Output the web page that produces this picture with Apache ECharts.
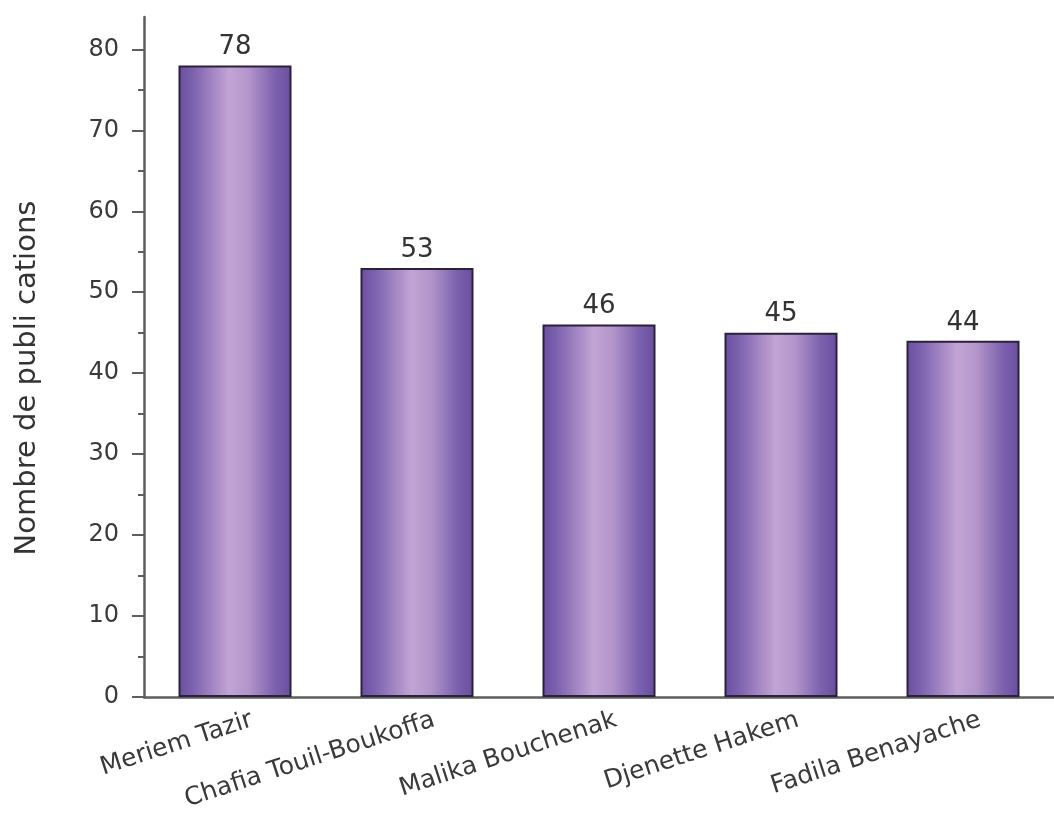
<!DOCTYPE html>
<html>
<head>
<meta charset="utf-8">
<script src="https://cdn.jsdelivr.net/npm/echarts@6/dist/echarts.min.js"></script>
<style>
html,body{margin:0;padding:0;background:#fff;}
#chart{width:1054px;height:829px;}
</style>
</head>
<body>
<div id="chart"></div>
<script>
const categories = ["Meriem Tazir", "Chafia Touil-Boukoffa", "Malika Bouchenak", "Djenette Hakem", "Fadila Benayache"];
const publications = [78, 53, 46, 45, 44];
const yTicks = [0, 10, 20, 30, 40, 50, 60, 70, 80];
const yAxisName = "Nombre de publi cations";

const chart = echarts.init(document.getElementById('chart'), null, {renderer: 'canvas'});
const FONT = "'DejaVu Sans', sans-serif";
const barGradient = new echarts.graphic.LinearGradient(0, 0, 1, 0, [
  {offset: 0, color: '#6a4fa2'},
  {offset: 0.12, color: '#7b60ad'},
  {offset: 0.45, color: '#c3a4d5'},
  {offset: 0.62, color: '#b395cb'},
  {offset: 0.86, color: '#7a60ad'},
  {offset: 1, color: '#694e9f'}
]);
chart.setOption({
  backgroundColor: '#ffffff',
  animation: false,
  grid: {left: 144, top: 17, width: 920, bottom: 132, containLabel: false},
  xAxis: {
    type: 'category',
    data: categories,
    axisLine: {show: true, lineStyle: {color: '#5e5e5e', width: 2.5}},
    axisTick: {show: false},
    axisLabel: {
      rotate: 18,
      interval: 0,
      color: '#3a3a3a',
      fontFamily: FONT,
      fontSize: 25,
      margin: 28,
      padding: [0, -18, 0, 0]
    }
  },
  yAxis: {
    type: 'value',
    min: 0,
    max: 84,
    interval: 10,
    name: yAxisName,
    nameLocation: 'middle',
    nameGap: 102,
    nameTextStyle: {color: '#333', fontFamily: FONT, fontSize: 29, padding: [0, 42, 0, 0]},
    splitLine: {show: false},
    axisLine: {show: true, lineStyle: {color: '#5e5e5e', width: 2.5}},
    axisTick: {show: true, inside: false, length: 12, customValues: yTicks, lineStyle: {color: '#5e5e5e', width: 2}},
    minorTick: {show: true, splitNumber: 2, length: 6, lineStyle: {color: '#5e5e5e', width: 2}},
    axisLabel: {color: '#3a3a3a', fontFamily: FONT, fontSize: 24, margin: 25, customValues: yTicks}
  },
  series: [{
    type: 'bar',
    data: publications,
    barWidth: 113,
    itemStyle: {color: barGradient, borderColor: '#2a2238', borderWidth: 2},
    label: {show: true, position: 'top', distance: 5, color: '#333', fontFamily: FONT, fontSize: 26}
  }]
});
</script>
</body>
</html>
